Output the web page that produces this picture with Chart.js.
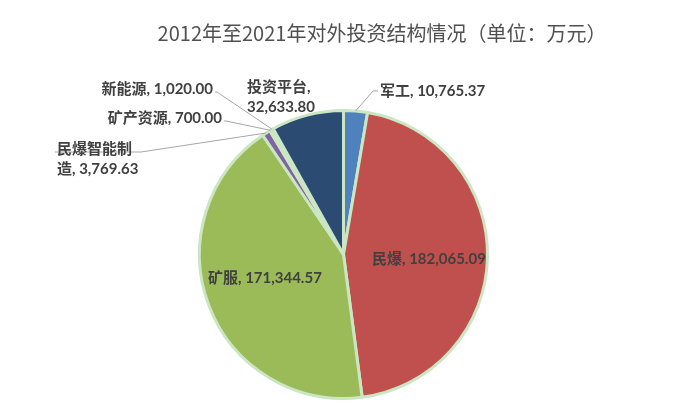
<!DOCTYPE html>
<html>
<head>
<meta charset="utf-8">
<script src="https://cdn.jsdelivr.net/npm/chart.js@4"></script>
<style>
  html, body { margin: 0; padding: 0; background: #fff; }
  #wrap { width: 683px; height: 413px; }
</style>
</head>
<body>
<div id="wrap"><canvas id="pieChart"></canvas></div>
<script>
const categories = ['军工', '民爆', '矿服', '民爆智能制造', '矿产资源', '新能源', '投资平台'];
const amounts = [10765.37, 182065.09, 171344.57, 3769.63, 700.00, 1020.00, 32633.80];
const sliceColors = ['#4f81bd', '#c0504d', '#9bbb59', '#8064a2', '#4bacc6', '#f79646', '#2b4b73'];
const chartTitle = '2012年至2021年对外投资结构情况（单位：万元）';

// where each data label sits: lines of text, anchor, alignment, optional leader elbow
const labelLayout = [
    { x: 380, y: 91, align: 'left', lines: 1, elbow: [373, 91] },
    { x: 372, y: 259, align: 'left', lines: 1 },
    { x: 208, y: 278, align: 'left', lines: 1 },
    { x: 57, y: 149, align: 'left', lines: 2, elbow: [141, 152] },
    { x: 222, y: 118, align: 'right', lines: 1, elbow: [226, 121] },
    { x: 213, y: 89, align: 'right', lines: 1, elbow: [217, 92] },
    { x: 247, y: 87, align: 'left', lines: 2 }
];

function fmt(v) {
    return v.toLocaleString('en-US', { minimumFractionDigits: 2, maximumFractionDigits: 2 });
}

function labelLines(i) {
    const txt = categories[i] + ', ' + fmt(amounts[i]);
    if (labelLayout[i].lines === 1) return [txt];
    if (categories[i].length > 4) {
        return [categories[i].slice(0, 5), categories[i].slice(5) + ', ' + fmt(amounts[i])];
    }
    return [categories[i] + ',', fmt(amounts[i])];
}

const pieLabels = {
    id: 'pieLabels',
    afterDatasetsDraw(chart) {
        const ctx = chart.ctx;
        const arcs = chart.getDatasetMeta(0).data;
        ctx.save();
        // title
        ctx.font = '20px "Noto Sans CJK SC", sans-serif';
        ctx.fillStyle = '#505050';
        ctx.textAlign = 'center';
        ctx.textBaseline = 'middle';
        ctx.fillText(chartTitle, 382, 33);

        ctx.font = 'bold 15px Lato, "Noto Sans CJK SC", sans-serif';
        ctx.fillStyle = '#404040';
        arcs.forEach((arc, i) => {
            const L = labelLayout[i];
            const lines = labelLines(i);
            if (L.elbow) {
                const p = arc.getProps(['x', 'y', 'startAngle', 'endAngle', 'outerRadius']);
                const mid = (p.startAngle + p.endAngle) / 2;
                const ax = p.x + Math.cos(mid) * p.outerRadius;
                const ay = p.y + Math.sin(mid) * p.outerRadius;
                ctx.strokeStyle = '#a6a6a6';
                ctx.lineWidth = 1;
                ctx.beginPath();
                ctx.moveTo(ax, ay);
                ctx.lineTo(L.elbow[0], L.elbow[1]);
                const endX = L.align === 'left' ? L.x - 2 : L.x + 2;
                ctx.lineTo(endX, L.elbow[1]);
                ctx.stroke();
            }
            ctx.textAlign = L.align;
            lines.forEach((t, k) => ctx.fillText(t, L.x, L.y + k * 20));
        });
        ctx.restore();
    }
};

new Chart(document.getElementById('pieChart').getContext('2d'), {
    type: 'pie',
    data: {
        labels: categories,
        datasets: [{
            data: amounts,
            backgroundColor: sliceColors,
            borderColor: '#cbe6c3',
            borderWidth: 3
        }]
    },
    options: {
        responsive: true,
        maintainAspectRatio: false,
        animation: false,
        layout: { padding: { top: 109, bottom: 13, left: 198, right: 194 } },
        plugins: { legend: { display: false }, tooltip: { enabled: false }, title: { display: false } }
    },
    plugins: [pieLabels]
});
</script>
</body>
</html>
